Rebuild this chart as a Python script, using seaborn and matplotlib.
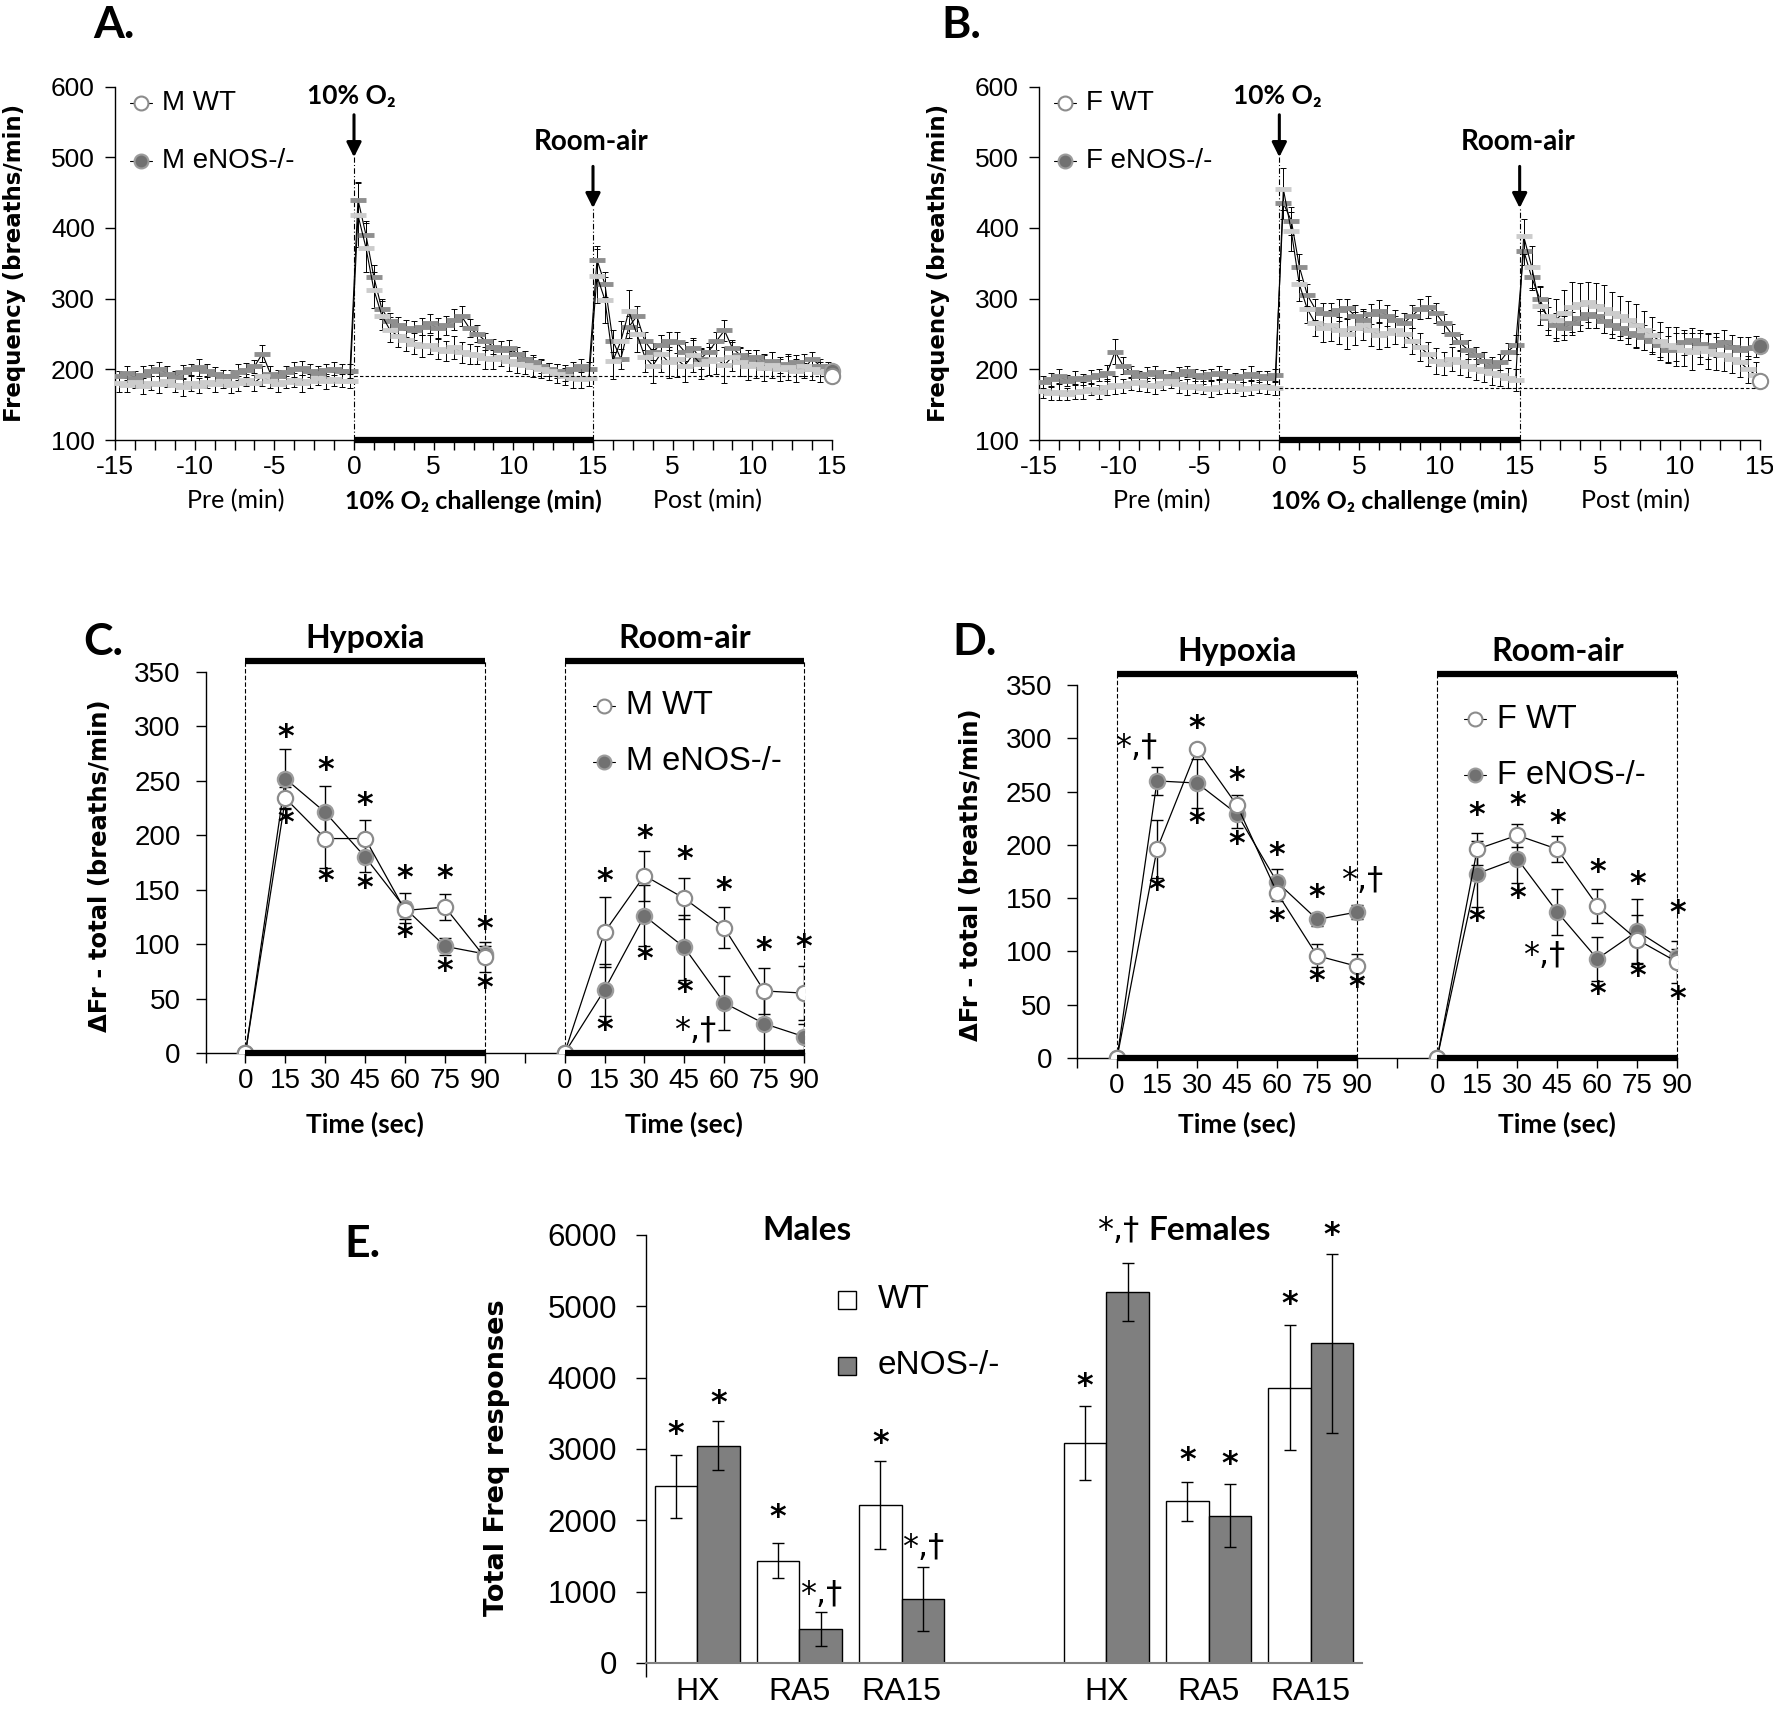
import numpy as np
import pandas as pd
import seaborn as sns
import matplotlib
matplotlib.use("Agg")
import matplotlib.pyplot as plt
from matplotlib.lines import Line2D

# ---------------- data ----------------
# A / B: 30-s bins, pre (-15..0), 10% O2 (0..15), post room-air (0..15)
A_wt = [180, 178, 182, 176, 181, 179, 184, 178, 175, 180, 177, 182, 179, 183, 178,
        180, 185, 181, 190, 183, 179, 182, 185, 180, 184, 187, 183, 186, 184, 183,
        418, 372, 312, 276, 256, 247, 241, 236, 233, 235, 229, 226, 231, 224, 222,
        220, 216, 214, 218, 212, 208, 206, 203, 200, 197, 194, 190, 188, 186, 188,
        332, 298, 212, 240, 282, 250, 218, 205, 222, 210, 214, 205, 220, 208, 212,
        215, 206, 218, 210, 204, 208, 202, 206, 200, 203, 198, 204, 200, 196, 198]
A_wt_err = [12, 10, 9, 11, 10, 12, 9, 10, 13, 11, 10, 9, 11, 10, 12,
            10, 9, 11, 14, 10, 11, 9, 10, 12, 10, 9, 11, 10, 9, 10,
            45, 35, 25, 20, 18, 16, 15, 15, 16, 14, 15, 14, 16, 15, 14,
            13, 15, 14, 13, 14, 13, 12, 14, 13, 12, 13, 12, 14, 13, 12,
            38, 32, 26, 28, 30, 25, 22, 24, 26, 22, 25, 23, 24, 22, 20,
            22, 25, 21, 20, 19, 20, 18, 19, 17, 18, 16, 17, 15, 14, 12]
A_ko = [190, 195, 188, 192, 198, 201, 194, 189, 196, 200, 203, 198, 193, 191, 190,
        196, 199, 204, 222, 194, 191, 196, 200, 202, 198, 195, 199, 201, 197, 198,
        440, 390, 330, 285, 268, 262, 258, 255, 260, 265, 258, 262, 270, 275, 258,
        250, 240, 232, 228, 230, 222, 215, 210, 205, 200, 198, 195, 200, 205, 200,
        355, 320, 240, 215, 260, 275, 240, 225, 235, 240, 238, 225, 230, 215, 225,
        240, 255, 230, 220, 215, 218, 210, 212, 205, 208, 210, 200, 215, 205, 200]
A_ko_err = [8, 10, 9, 12, 8, 10, 11, 9, 10, 8, 12, 9, 10, 8, 9,
            11, 10, 9, 12, 10, 8, 9, 11, 10, 9, 10, 8, 9, 11, 10,
            25, 20, 18, 14, 12, 12, 12, 14, 12, 13, 15, 14, 15, 14, 13,
            12, 12, 11, 12, 11, 10, 11, 10, 10, 9, 10, 11, 10, 9, 10,
            20, 18, 15, 14, 16, 15, 13, 12, 14, 13, 15, 13, 12, 14, 12,
            13, 15, 12, 11, 12, 10, 11, 12, 10, 11, 10, 9, 10, 9, 8]
A_end = [190, 197]          # last point (WT, eNOS-/-)
A_base = 190

B_wt = [170, 166, 168, 165, 168, 170, 172, 168, 175, 178, 176, 180, 182, 178, 176,
        180, 183, 179, 175, 177, 174, 172, 175, 178, 176, 172, 174, 176, 175, 173,
        455, 395, 320, 285, 265, 258, 262, 255, 250, 258, 262, 255, 248, 252, 256,
        250, 240, 232, 222, 212, 208, 215, 210, 205, 200, 198, 195, 192, 188, 185,
        388, 345, 290, 275, 270, 280, 288, 292, 295, 290, 285, 280, 275, 270, 262,
        255, 248, 240, 235, 232, 228, 225, 230, 226, 222, 220, 215, 210, 200, 192]
B_wt_err = [10, 9, 11, 8, 10, 12, 9, 10, 11, 13, 10, 9, 12, 10, 11,
            9, 10, 12, 11, 10, 9, 11, 10, 12, 9, 10, 11, 9, 10, 9,
            30, 28, 24, 20, 18, 20, 22, 19, 21, 23, 20, 22, 19, 21, 20,
            18, 19, 20, 17, 18, 16, 17, 18, 16, 15, 16, 17, 15, 14, 15,
            25, 30, 28, 26, 30, 32, 35, 30, 28, 32, 34, 30, 28, 26, 30,
            28, 26, 27, 25, 28, 24, 26, 22, 25, 23, 22, 20, 21, 19, 18]
B_ko = [182, 186, 190, 184, 188, 186, 189, 192, 195, 225, 205, 196, 190, 193, 196,
        191, 188, 194, 197, 192, 189, 193, 195, 190, 187, 191, 194, 190, 188, 192,
        435, 410, 345, 305, 285, 280, 278, 284, 286, 275, 270, 278, 282, 276, 270,
        265, 275, 285, 288, 280, 265, 250, 238, 228, 220, 212, 205, 210, 225, 235,
        368, 330, 300, 272, 262, 258, 265, 272, 278, 275, 268, 262, 258, 252, 248,
        245, 240, 235, 228, 232, 238, 242, 236, 232, 235, 238, 232, 228, 230, 232]
B_ko_err = [8, 9, 10, 8, 9, 8, 10, 9, 11, 18, 12, 9, 8, 10, 9,
            8, 10, 9, 8, 9, 10, 8, 9, 10, 8, 9, 10, 8, 9, 8,
            22, 20, 18, 16, 15, 14, 16, 15, 14, 16, 15, 14, 16, 15, 14,
            15, 16, 14, 15, 14, 13, 14, 12, 13, 12, 13, 12, 11, 12, 13,
            20, 18, 17, 16, 18, 17, 16, 18, 19, 17, 16, 18, 17, 16, 18,
            17, 16, 18, 19, 20, 18, 17, 19, 18, 17, 18, 16, 17, 16, 15]
B_end = [183, 233]
B_base = 174

# C / D: response at 0..90 s (hypoxia, then room-air)
times = [0, 15, 30, 45, 60, 75, 90]
C_hx_wt = [0, 234, 197, 197, 131, 134, 88]
C_hx_wt_err = [0, 10, 27, 17, 8, 12, 14]
C_hx_ko = [0, 252, 221, 180, 133, 98, 91]
C_hx_ko_err = [0, 27, 24, 14, 14, 8, 7]
C_ra_wt = [0, 111, 163, 142, 115, 57, 55]
C_ra_wt_err = [0, 32, 23, 19, 19, 21, 25]
C_ra_ko = [0, 58, 126, 97, 46, 27, 15]
C_ra_ko_err = [0, 24, 28, 30, 25, 27, 12]
C_stars = [("hx", 15, 289, "*"), ("hx", 15, 210, "*"), ("hx", 30, 259, "*"), ("hx", 30, 157, "*"),
           ("hx", 45, 227, "*"), ("hx", 45, 151, "*"), ("hx", 60, 160, "*"), ("hx", 60, 106, "*"),
           ("hx", 75, 160, "*"), ("hx", 75, 74, "*"), ("hx", 90, 113, "*"), ("hx", 90, 59, "*"),
           ("ra", 15, 157, "*"), ("ra", 15, 20, "*"), ("ra", 30, 197, "*"), ("ra", 30, 85, "*"),
           ("ra", 45, 177, "*"), ("ra", 45, 55, "*"), ("ra", 49, 20, "*,†"), ("ra", 60, 149, "*"),
           ("ra", 75, 94, "*"), ("ra", 90, 96, "*")]

D_hx_wt = [0, 196, 290, 237, 155, 96, 86]
D_hx_wt_err = [0, 27, 5, 10, 8, 11, 12]
D_hx_ko = [0, 260, 258, 229, 165, 130, 137]
D_hx_ko_err = [0, 13, 23, 13, 12, 6, 7]
D_ra_wt = [0, 196, 209, 196, 143, 111, 90]
D_ra_wt_err = [0, 15, 11, 12, 16, 23, 20]
D_ra_ko = [0, 173, 187, 137, 93, 119, 95]
D_ra_ko_err = [0, 31, 23, 22, 21, 30, 7]
D_stars = [("hx", 7, 291, "*,†"), ("hx", 15, 157, "*"), ("hx", 30, 309, "*"), ("hx", 30, 220, "*"),
           ("hx", 45, 260, "*"), ("hx", 45, 200, "*"), ("hx", 60, 190, "*"), ("hx", 60, 128, "*"),
           ("hx", 75, 150, "*"), ("hx", 75, 71, "*"), ("hx", 92, 166, "*,†"), ("hx", 90, 66, "*"),
           ("ra", 15, 227, "*"), ("ra", 15, 128, "*"), ("ra", 30, 236, "*"), ("ra", 30, 149, "*"),
           ("ra", 45, 220, "*"), ("ra", 40, 96, "*,†"), ("ra", 60, 174, "*"), ("ra", 60, 59, "*"),
           ("ra", 75, 162, "*"), ("ra", 75, 76, "*"), ("ra", 90, 135, "*"), ("ra", 90, 54, "*")]

# E: total frequency responses
E_groups = ["M HX", "M RA5", "M RA15", "F HX", "F RA5", "F RA15"]
E_wt = [2475, 1433, 2215, 3085, 2269, 3862]
E_wt_err = [440, 243, 610, 515, 275, 875]
E_ko = [3046, 471, 899, 5198, 2065, 4479]
E_ko_err = [340, 238, 447, 410, 440, 1260]
E_wt_star = ["*", "*", "*", "*", "*", "*"]
E_ko_star = ["*", "*,†", "*,†", "*,†", "*", "*"]
E_wt_star_y = [3192, 2026, 3070, 3872, 2827, 5014]
E_ko_star_y = [3629, 957, 1613, 6058, 2779, 5985]

# ---------------- style ----------------
sns.set_theme(style="ticks", rc={
    "axes.edgecolor": "black", "axes.linewidth": 1.0,
    "xtick.color": "black", "ytick.color": "black",
    "text.color": "black", "axes.labelcolor": "black",
})
plt.rcParams["font.family"] = ["Liberation Sans", "DejaVu Sans"]
CAL = ["Lato", "DejaVu Sans"]
WIDE = ["DejaVu Sans"]
KO_FILL, KO_EDGE, WT_EDGE = "#717171", "#9c9c9c", "#8c8c8c"

W, H = 1773, 1716
fig = plt.figure(figsize=(W / 100, H / 100), dpi=100)


def box(x0, y0, x1, y1):
    return fig.add_axes([x0 / W, 1 - y1 / H, (x1 - x0) / W, (y1 - y0) / H])


def ftext(x, y, s, **kw):
    fig.text(x / W, 1 - y / H, s, **kw)


def legend_row(xm, xt, y, label, filled, fs, stub=True):
    if stub:
        fig.add_artist(Line2D([(xm - 11) / W, (xm + 11) / W], [1 - y / H] * 2, color="black", lw=0.8))
    fig.add_artist(Line2D([xm / W], [1 - y / H], marker="o", ms=10, ls="none",
                          mfc=KO_FILL if filled else "white", mec=KO_EDGE if filled else WT_EDGE, mew=1.5))
    ftext(xt, y, label, fontsize=fs, va="center", ha="left")


def star(ax, x, y, s, fs=23):
    # y is where the centre of the asterisk should sit
    ax.annotate(s, (x, y), xytext=(0, -0.25 * fs), textcoords="offset points", ha="center",
                va="baseline", fontsize=fs, fontweight="bold" if s == "*" else "normal",
                family=WIDE, annotation_clip=False)


# ---------------- A / B: time course ----------------
t = np.arange(-14.75, 30, 0.5)


def trace_panel(x0, x1, wt, wt_err, ko, ko_err, end, base, sex, letter_x):
    ax = box(x0, 86.5, x1, 440)
    for y, e, col in [(ko, ko_err, "#8f8f8f"), (wt, wt_err, "#cccccc")]:
        ax.errorbar(t, y, yerr=e, fmt="none", ecolor="black", elinewidth=0.7,
                    capsize=2.5, capthick=0.7, zorder=2)
        sns.lineplot(x=t, y=y, ax=ax, color="black", linewidth=0.8, marker="_",
                     markersize=11, markeredgewidth=3.5, markeredgecolor=col, zorder=3)
    ax.plot([30], [end[1]], "o", ms=11, mfc=KO_FILL, mec=KO_EDGE, mew=1.5, clip_on=False, zorder=6)
    ax.plot([30], [end[0]], "o", ms=11, mfc="white", mec=WT_EDGE, mew=1.5, clip_on=False, zorder=6)
    ax.plot([0, 30], [base, base], color="black", lw=0.8, ls=(0, (3, 2)), zorder=4)
    ax.plot([0, 0], [100, 500], color="black", lw=0.8, ls=(0, (5, 2, 1, 2)), clip_on=False)
    ax.plot([15, 15], [100, 428], color="black", lw=0.8, ls=(0, (5, 2, 1, 2)), clip_on=False)
    ax.plot([0, 15], [100, 100], color="black", lw=4.5, solid_capstyle="butt", clip_on=False, zorder=7)
    arrow = dict(arrowstyle="-|>", color="black", lw=2.2, mutation_scale=22, shrinkA=0, shrinkB=0)
    ax.annotate("", xy=(0, 500), xytext=(0, 560), arrowprops=arrow, annotation_clip=False)
    ax.annotate("", xy=(15, 428), xytext=(15, 487), arrowprops=arrow, annotation_clip=False)
    ax.text(-0.15, 587, "10% O₂", ha="center", va="center", fontsize=19, fontweight="bold", family=CAL)
    ax.text(14.9, 521, "Room-air", ha="center", va="center", fontsize=20, fontweight="bold", family=CAL)

    ax.set_xlim(-15, 30)
    ax.set_ylim(100, 600)
    ax.set_yticks(range(100, 601, 100))
    ax.set_xticks(range(-15, 31, 5))
    ax.set_xticklabels(["-15", "-10", "-5", "0", "5", "10", "15", "5", "10", "15"])
    ax.set_xticks(np.arange(-15, 30.01, 1.25), minor=True)
    ax.tick_params(which="both", direction="out", length=7, width=1, labelsize=19)
    ax.tick_params(axis="y", pad=7.5)
    ax.set_xlabel("")
    ax.set_ylabel("")
    sns.despine(ax=ax)

    span = (x1 - x0) / 45
    ftext(x0 + 15 * span - 118, 501, "Pre (min)", ha="center", va="center", fontsize=18, family=CAL)
    ftext(x0 + 22.5 * span, 501, "10% O₂ challenge (min)", ha="center", va="center",
          fontsize=18, fontweight="bold", family=CAL)
    ftext(x0 + 37.2 * span, 501, "Post (min)", ha="center", va="center", fontsize=18, family=CAL)
    ftext(x0 - 100, 263, "Frequency (breaths/min)", rotation=90, ha="center", va="center",
          fontsize=16.5, fontweight="bold", family=WIDE)
    ftext(letter_x, 25, ["A.", "B."][sex == "F"], ha="left", va="center", fontsize=32,
          fontweight="bold", family=CAL)
    legend_row(x0 + 26, x0 + 47, 103, f"{sex} WT", False, 20)
    legend_row(x0 + 26, x0 + 47, 161, f"{sex} eNOS-/-", True, 20)
    return ax


trace_panel(115, 832, A_wt, A_wt_err, A_ko, A_ko_err, A_end, A_base, "M", 93)
trace_panel(1039, 1760, B_wt, B_wt_err, B_ko, B_ko_err, B_end, B_base, "F", 941)


# ---------------- C / D: response over time ----------------
def resp_panel(spine_x, cat14_x, y0_px, y350_px, series, stars, sex, letter_x):
    ax = box(spine_x, y350_px, cat14_x, y0_px)
    seg = {"hx": 0, "ra": 8}
    for key, (wt, wt_err, ko, ko_err) in series.items():
        x = np.arange(len(times)) + seg[key]
        for y, e, fill, edge in [(ko, ko_err, KO_FILL, KO_EDGE), (wt, wt_err, "white", WT_EDGE)]:
            ax.errorbar(x, y, yerr=e, fmt="none", ecolor="black", elinewidth=1, capsize=4, capthick=1, zorder=2)
            sns.lineplot(x=x, y=y, ax=ax, color="black", linewidth=0.9, marker="o", markersize=11,
                         markerfacecolor=fill, markeredgecolor=edge, markeredgewidth=1.6, zorder=3)
    for s, tm, v, lab in stars:
        star(ax, seg[s] + tm / 15, v, lab)
    for a, b in [(0, 6), (8, 14)]:
        for yy in (0, 360):
            ax.plot([a, b], [yy, yy], color="black", lw=4.5, solid_capstyle="butt", clip_on=False, zorder=6)
        for xx in (a, b):
            ax.plot([xx, xx], [0, 360], color="black", lw=0.8, ls=(0, (4, 2)), clip_on=False, zorder=1)
        ax.text((a + b) / 2, 381, ["Hypoxia", "Room-air"][a > 0], ha="center", va="center",
                fontsize=23, fontweight="bold", family=CAL)
        ax.text((a + b) / 2, -(1124 - y0_px) / (y0_px - y350_px) * 350, "Time (sec)", ha="center",
                va="center", fontsize=19, fontweight="bold", family=CAL)
    ax.set_xlim(-1, 14)
    ax.set_ylim(0, 350)
    ax.set_yticks(range(0, 351, 50))
    ax.set_xticks(range(-1, 15))
    ax.set_xticklabels([""] + [str(v) for v in times] + [""] + [str(v) for v in times])
    ax.tick_params(direction="out", length=7, width=1, labelsize=20)
    ax.tick_params(axis="y", pad=11)
    ax.set_xlabel("")
    ax.set_ylabel("")
    sns.despine(ax=ax)
    ftext(spine_x - 106, (y0_px + y350_px) / 2 + 3, "ΔFr - total (breaths/min)", rotation=90,
          ha="center", va="center", fontsize=17.5, fontweight="bold", family=WIDE)
    ftext(letter_x, 642, ["C.", "D."][sex == "F"], ha="left", va="center", fontsize=32,
          fontweight="bold", family=CAL)
    xm = spine_x + 398
    legend_row(xm, xm + 22, y350_px + 34, f"{sex} WT", False, 23.5)
    legend_row(xm, xm + 22, y350_px + 90, f"{sex} eNOS-/-", True, 23.5)
    return ax


resp_panel(205.6, 804, 1053, 672,
           {"hx": (C_hx_wt, C_hx_wt_err, C_hx_ko, C_hx_ko_err),
            "ra": (C_ra_wt, C_ra_wt_err, C_ra_ko, C_ra_ko_err)}, C_stars, "M", 83)
resp_panel(1077, 1677.3, 1058, 685,
           {"hx": (D_hx_wt, D_hx_wt_err, D_hx_ko, D_hx_ko_err),
            "ra": (D_ra_wt, D_ra_wt_err, D_ra_ko, D_ra_ko_err)}, D_stars, "F", 952)

# ---------------- E: bars ----------------
order = ["M HX", "M RA5", "M RA15", "gap", "F HX", "F RA5", "F RA15"]
df = pd.DataFrame({
    "group": E_groups * 2,
    "genotype": ["WT"] * len(E_groups) + ["eNOS-/-"] * len(E_groups),
    "value": E_wt + E_ko,
})
ax = box(646, 1235, 1362, 1663)
sns.barplot(data=df, x="group", y="value", hue="genotype", order=order, hue_order=["WT", "eNOS-/-"],
            palette={"WT": "white", "eNOS-/-": "#7f7f7f"}, saturation=1, edgecolor="black",
            linewidth=1, width=0.83, errorbar=None, legend=False, ax=ax)
for i, g in enumerate(E_groups):
    xi = order.index(g)
    for dx, v, e, s, sy in [(-0.2075, E_wt[i], E_wt_err[i], E_wt_star[i], E_wt_star_y[i]),
                            (0.2075, E_ko[i], E_ko_err[i], E_ko_star[i], E_ko_star_y[i])]:
        ax.errorbar(xi + dx, v, yerr=e, fmt="none", ecolor="black", elinewidth=1, capsize=4, capthick=1)
        star(ax, xi + dx - (0.09 if s != "*" and g == "F HX" else 0), sy, s)
ax.set_xlim(-0.5, 6.5)
ax.set_ylim(0, 6000)
ax.set_yticks(range(0, 6001, 1000))
ax.set_xticks(range(7))
ax.set_xticklabels(["HX", "RA5", "RA15", "", "HX", "RA5", "RA15"])
ax.set_xticks([-0.5], minor=True)
ax.tick_params(axis="y", direction="out", length=7, width=1, labelsize=22.5, pad=14)
ax.tick_params(axis="x", which="major", length=0, labelsize=23, pad=10)
ax.tick_params(axis="x", which="minor", length=10, width=1)
ax.spines["bottom"].set_color("#808080")
ax.spines["bottom"].set_linewidth(1.5)
ax.set_xlabel("")
ax.set_ylabel("")
sns.despine(ax=ax)
ftext(806.8, 1230.7, "Males", ha="center", va="center", fontsize=24, fontweight="bold", family=CAL)
ftext(1210, 1230.7, "Females", ha="center", va="center", fontsize=24, fontweight="bold", family=CAL)
ftext(496.6, 1458, "Total Freq responses", rotation=90, ha="center", va="center",
      fontsize=19.5, fontweight="bold", family=WIDE)
ftext(344, 1244, "E.", ha="left", va="center", fontsize=32, fontweight="bold", family=CAL)
for y, lab, fill in [(1300, "WT", "white"), (1366, "eNOS-/-", "#7f7f7f")]:
    fig.add_artist(Line2D([846.6 / W], [1 - y / H], marker="s", ms=12.5, ls="none",
                          mfc=fill, mec="black", mew=1))
    ftext(878, y, lab, fontsize=24, va="center", ha="left")

fig.savefig("out.png", dpi=100)
